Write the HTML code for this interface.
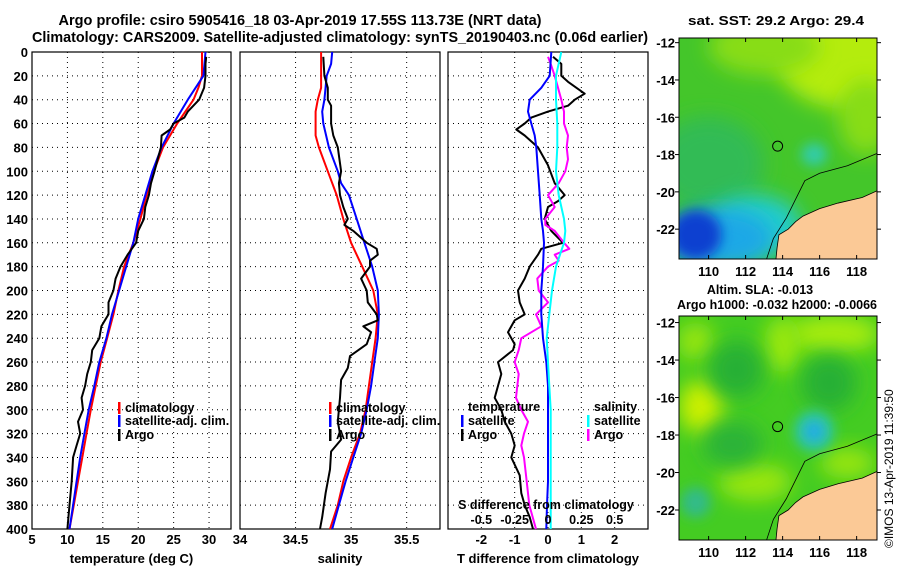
<!DOCTYPE html>
<html><head><meta charset="utf-8"><style>
html,body{margin:0;padding:0;background:#fff;}
svg{display:block;font-family:"Liberation Sans",sans-serif;font-weight:bold;}
</style></head><body>
<svg id="chart" width="900" height="580" viewBox="0 0 900 580">
<defs>
<filter id="blur6" x="-50%" y="-50%" width="200%" height="200%"><feGaussianBlur stdDeviation="6"/></filter>
<filter id="blur10" x="-50%" y="-50%" width="200%" height="200%"><feGaussianBlur stdDeviation="10"/></filter>
<clipPath id="clipM1"><rect x="679" y="38" width="198" height="221"/></clipPath>
<clipPath id="clipM2"><rect x="679" y="316" width="198" height="224"/></clipPath>
</defs>
<text x="300" y="25" font-size="15" text-anchor="middle" textLength="483" lengthAdjust="spacingAndGlyphs">Argo profile: csiro 5905416_18 03-Apr-2019 17.55S 113.73E (NRT data)</text>
<text x="340" y="42" font-size="15" text-anchor="middle" textLength="616" lengthAdjust="spacingAndGlyphs">Climatology: CARS2009. Satellite-adjusted climatology: synTS_20190403.nc (0.06d earlier)</text>
<text x="776" y="25" font-size="13" text-anchor="middle" textLength="176" lengthAdjust="spacingAndGlyphs">sat. SST: 29.2 Argo: 29.4</text>
<text x="760" y="294" font-size="12.5" text-anchor="middle">Altim. SLA: -0.013</text>
<text x="777" y="309" font-size="12.5" text-anchor="middle" textLength="200" lengthAdjust="spacingAndGlyphs">Argo h1000: -0.032 h2000: -0.0066</text>
<text transform="translate(893,548) rotate(-90)" font-size="12" font-weight="normal">©IMOS 13-Apr-2019 11:39:50</text>
<g id="panels"></g>
<g id="maps"></g>
</svg>
<script>
// ---- data ----
const depthTicks = [0,20,40,60,80,100,120,140,160,180,200,220,240,260,280,300,320,340,360,380,400];
const tempTicks = [5,10,15,20,25,30];
const salTicks = [34,34.5,35,35.5];
const salTickLabels = ['34','34.5','35','35.5'];
const tdiffTicks = [-2,-1,0,1,2];
const sdiffTicks = [-0.5,-0.25,0,0.25,0.5];

const tClimDepth = [0,20,30,40,60,80,100,120,140,160,180,200,220,240,260,280,300,320,340,360,380,400];
const tClim = [29.0,29.0,28.5,27.8,25.5,23.5,22.2,21.2,20.3,19.3,18.0,17.2,16.5,15.6,14.7,14.0,13.3,12.7,12.1,11.5,10.9,10.3];
const tSatDepth = [0,20,40,60,80,100,120,140,160,180,200,220,240,260,280,300,320,340,360,380,400];
const tSat = [29.5,29.2,27.0,25.0,23.3,22.0,21.0,20.0,19.3,18.3,17.3,16.3,15.5,14.5,13.8,13.0,12.4,11.8,11.3,10.8,10.3];
const tArgoDepth = [4,10,20,30,40,50,55,60,65,70,80,100,110,120,130,140,150,160,170,180,190,200,210,220,225,230,240,250,260,270,280,290,300,310,320,330,340,360,380,400];
const tArgo = [29.6,29.5,29.5,29.3,28.6,27.0,26.5,25.0,24.5,23.3,23.2,22.3,21.8,21.5,21.0,20.8,20.0,19.7,18.5,17.5,16.8,16.5,15.8,15.8,15.3,14.8,14.5,13.5,13.3,12.8,12.5,12.0,12.2,11.5,11.8,11.3,10.8,10.6,10.3,10.0];

const sClimDepth = [0,30,40,50,70,80,100,120,140,160,180,200,220,240,260,280,300,320,340,360,380,400];
const sClim = [34.73,34.73,34.70,34.68,34.68,34.71,34.79,34.87,34.93,35.00,35.10,35.20,35.24,35.22,35.19,35.16,35.13,35.08,35.00,34.93,34.88,34.81];
const sSatDepth = [0,10,20,40,50,60,80,100,110,120,140,160,180,200,220,240,260,280,300,320,340,360,380,400];
const sSat = [34.83,34.82,34.78,34.76,34.74,34.75,34.80,34.88,34.91,34.98,35.05,35.12,35.19,35.24,35.25,35.24,35.21,35.18,35.14,35.09,35.02,34.95,34.89,34.83];
const sArgoDepth = [4,20,30,40,45,60,70,80,100,110,120,130,140,145,150,160,165,170,175,180,190,200,210,220,225,230,235,245,255,265,275,290,310,325,335,350,370,390,400];
const sArgo = [34.75,34.76,34.79,34.79,34.82,34.82,34.84,34.88,34.91,34.89,34.90,34.93,34.97,34.94,35.02,35.14,35.23,35.24,35.17,35.17,35.09,35.14,35.15,35.23,35.24,35.11,35.18,35.14,34.99,34.97,34.91,34.90,34.88,34.91,34.82,34.81,34.77,34.74,34.72];

const dTSatDepth = [0,20,30,40,50,60,70,80,100,120,140,150,160,180,200,220,240,260,280,300,320,340,360,380,400];
const dTSat = [0.1,0.05,-0.2,-0.55,-0.6,-0.5,-0.4,-0.35,-0.3,-0.25,-0.2,-0.15,-0.12,-0.15,-0.2,-0.2,-0.15,-0.05,0,0,0,0,0,-0.03,-0.05];
const dSSatDepth = [0,20,40,60,80,100,120,140,150,160,170,180,200,220,240,260,280,300,320,340,360,380,400];
const dSSat = [0.1,0.06,0.06,0.07,0.07,0.06,0.08,0.12,0.13,0.12,0.09,0.06,0.03,0.01,-0.01,0,0.01,0.02,0.02,0.02,0.02,0.02,0.02];
const dTArgoDepth = [4,10,20,25,35,40,45,50,55,60,65,70,80,95,110,120,125,130,140,150,160,165,170,180,190,200,210,220,225,235,245,250,260,270,280,290,300,310,320,330,340,355,370,380,390,400];
const dTArgo = [0.15,0.4,0.4,0.6,1.1,0.8,0.6,0,-0.5,-0.7,-0.95,-0.7,-0.3,0,0.2,0.5,0.3,0,-0.1,0.1,0.45,-0.2,-0.3,-0.55,-0.7,-0.9,-0.85,-0.7,-1.0,-1.2,-1.0,-1.05,-1.5,-1.4,-1.5,-1.6,-1.4,-1.3,-1.1,-1.0,-1.1,-0.85,-0.8,-0.7,-0.55,-0.45];
const dSArgoDepth = [4,10,20,40,50,60,70,80,90,100,110,120,130,140,145,150,160,165,170,175,180,190,200,210,220,230,240,250,260,270,280,290,300,310,320,330,340,360,380,400];
const dSArgo = [0,0.02,0.05,0.1,0.12,0.12,0.15,0.14,0.15,0.13,0.08,0,0.05,-0.02,-0.02,0.05,0.12,0.16,0.05,0.08,0,-0.08,-0.07,0,-0.09,-0.05,-0.2,-0.22,-0.25,-0.22,-0.23,-0.24,-0.2,-0.15,-0.18,-0.2,-0.18,-0.16,-0.14,-0.09];

const lonTicks = [110,112,114,116,118];
const latTicks = [-12,-14,-16,-18,-20,-22];
const argoLon = [113.73];
const argoLat = [-17.55];

// ---- helpers ----
const NS='http://www.w3.org/2000/svg';
function mk(tag,attrs,parent){const e=document.createElementNS(NS,tag);for(const k in attrs)e.setAttribute(k,attrs[k]);parent.appendChild(e);return e;}
const panels=document.getElementById('panels');
const Y0=52,Y1=529;
const yScale=d=>Y0+(d/400)*(Y1-Y0);

function drawPanel(name,x0,x1,vmin,vmax,ticks,labels,showY,title){
  const g=mk('g',{},panels);
  
  
  const xs=v=>x0+(v-vmin)/(vmax-vmin)*(x1-x0);
  depthTicks.forEach(d=>{
    if(d===0||d===400)return;
    const l=mk('line',{x1:x0,x2:x1,y1:yScale(d),y2:yScale(d),stroke:'#000','stroke-width':1,'stroke-dasharray':'1,4'},g);
    
    
  });
  ticks.forEach((t,i)=>{
    const x=xs(t);
    if(x>x0+2&&x<x1-2){
      const l=mk('line',{x1:x,x2:x,y1:Y0,y2:Y1,stroke:'#000','stroke-width':1,'stroke-dasharray':'1,4'},g);
      
      
    }
    const tx=mk('text',{x:x,y:544,'font-size':13,'text-anchor':'middle'},g);
    tx.textContent=labels?labels[i]:String(t);
    
    
  });
  if(showY){
    depthTicks.forEach(d=>{
      const tx=mk('text',{x:28,y:yScale(d)+5,'font-size':13,'text-anchor':'end'},g);
      tx.textContent=String(d);
      
      
    });
  }
  const r=mk('rect',{x:x0,y:Y0,width:x1-x0,height:Y1-Y0,fill:'none',stroke:'#000','stroke-width':1.2},g);
  
  
  const at=mk('text',{x:(x0+x1)/2,y:563,'font-size':13,'text-anchor':'middle'},g);
  at.textContent=title;
  
  
  return {g,xs};
}
function line(g,xs,depths,vals,color,w,name){
  const pts=depths.map((d,i)=>xs(vals[i]).toFixed(1)+','+yScale(d).toFixed(1)).join(' ');
  const p=mk('polyline',{points:pts,fill:'none',stroke:color,'stroke-width':w,'stroke-linejoin':'round'},g);
  
  
}
function legend(g,x,y,color,label,name){
  const b=mk('rect',{x:x,y:y-9,width:2.5,height:12,fill:color},g);
  
  
  const t=mk('text',{x:x+7,y:y+1,'font-size':12.5},g);
  t.textContent=label;
  
  
}

const P1=drawPanel('temperature',32,231,5,33.1,tempTicks,null,true,'temperature (deg C)');
line(P1.g,P1.xs,tClimDepth,tClim,'#ff0000',2,'temp-climatology-line');
line(P1.g,P1.xs,tSatDepth,tSat,'#0000ff',2,'temp-satellite-line');
line(P1.g,P1.xs,tArgoDepth,tArgo,'#000',2,'temp-argo-line');
legend(P1.g,118,411,'#ff0000','climatology','legend-climatology');
legend(P1.g,118,424,'#0000ff','satellite-adj. clim.','legend-satellite');
legend(P1.g,118,438,'#000','Argo','legend-argo');

const P2=drawPanel('salinity',240,440,34,35.8,salTicks,salTickLabels,false,'salinity');
line(P2.g,P2.xs,sClimDepth,sClim,'#ff0000',2,'sal-climatology-line');
line(P2.g,P2.xs,sSatDepth,sSat,'#0000ff',2,'sal-satellite-line');
line(P2.g,P2.xs,sArgoDepth,sArgo,'#000',2,'sal-argo-line');
legend(P2.g,329,411,'#ff0000','climatology','legend-climatology');
legend(P2.g,329,424,'#0000ff','satellite-adj. clim.','legend-satellite');
legend(P2.g,329,438,'#000','Argo','legend-argo');

const P3=drawPanel('difference',448,648,-3,3,tdiffTicks,null,false,'T difference from climatology');
const xsS=v=>P3.xs(v*4);
line(P3.g,P3.xs,dTArgoDepth,dTArgo,'#000',2,'tdiff-argo-line');
line(P3.g,xsS,dSArgoDepth,dSArgo,'#ff00ff',2,'sdiff-argo-line');
line(P3.g,P3.xs,dTSatDepth,dTSat,'#0000ff',2,'tdiff-satellite-line');
line(P3.g,xsS,dSSatDepth,dSSat,'#00ffff',2,'sdiff-satellite-line');
{
  const t=mk('text',{x:468,y:411,'font-size':12.5},P3.g);t.textContent='temperature';
  
  
  const s=mk('text',{x:594,y:411,'font-size':12.5},P3.g);s.textContent='salinity';
  
  
}
legend(P3.g,461,424,'#0000ff','satellite','legend-t-satellite');
legend(P3.g,461,438,'#000','Argo','legend-t-argo');
legend(P3.g,587,424,'#00ffff','satellite','legend-s-satellite');
legend(P3.g,587,438,'#ff00ff','Argo','legend-s-argo');
{
  const t=mk('text',{x:546,y:509,'font-size':12.5,'text-anchor':'middle'},P3.g);
  t.textContent='S difference from climatology';
  
  
  sdiffTicks.forEach(v=>{
    const l=mk('text',{x:xsS(v),y:524,'font-size':12.5,'text-anchor':'middle'},P3.g);
    l.textContent=String(v);
    
    
  });
}

// ---- maps ----
const maps=document.getElementById('maps');
const MX0=679,MX1=877,LON0=108.4,LON1=119.1;
const mx=lon=>MX0+(lon-LON0)/(LON1-LON0)*(MX1-MX0);
function drawMap(name,y0,y1,latTop,latBot,clip,blobs,base){
  const my=lat=>y0+(latTop-lat)/(latTop-latBot)*(y1-y0);
  const g=mk('g',{},maps);
  
  
  const f=mk('g',{'clip-path':'url(#'+clip+')'},g);
  mk('rect',{x:MX0,y:y0,width:MX1-MX0,height:y1-y0,fill:base},f);
  blobs.forEach(b=>{
    mk('ellipse',{cx:mx(b[0]),cy:my(b[1]),rx:b[2]*18.5,ry:b[3]*19,fill:b[4],filter:'url(#'+(b[5]||'blur10')+')'},f);
  });
  const land=[[113.6,-24],[113.7,-23.0],[113.8,-22.3],[114.3,-22.0],[114.7,-21.6],[115.1,-21.3],[116.0,-20.9],[117.0,-20.6],[118.3,-20.3],[119.2,-19.9],[119.2,-24]];
  const lp=mk('polygon',{points:land.map(p=>mx(p[0])+','+my(p[1])).join(' '),fill:'#fbc996',stroke:'#000','stroke-width':0.8},f);
  
  
  const shelf=[[113.0,-24],[113.5,-22.5],[114.2,-21.4],[114.8,-20.2],[115.2,-19.4],[116.0,-19.0],[117.5,-18.6],[119.2,-17.9]];
  const sp=mk('polyline',{points:shelf.map(p=>mx(p[0])+','+my(p[1])).join(' '),fill:'none',stroke:'#000','stroke-width':0.8},f);
  
  
  const c=mk('circle',{cx:mx(argoLon[0]),cy:my(argoLat[0]),r:5,fill:'none',stroke:'#000','stroke-width':1},g);
  
  
  const r=mk('rect',{x:MX0,y:y0,width:MX1-MX0,height:y1-y0,fill:'none',stroke:'#000','stroke-width':1},g);
  
  
  lonTicks.forEach(l=>{
    mk('line',{x1:mx(l),x2:mx(l),y1:y0,y2:y0+4,stroke:'#000'},g);
    mk('line',{x1:mx(l),x2:mx(l),y1:y1,y2:y1-4,stroke:'#000'},g);
    const t=mk('text',{x:mx(l),y:y1+17,'font-size':13,'text-anchor':'middle'},g);
    t.textContent=String(l);
    
    
  });
  latTicks.forEach(l=>{
    mk('line',{x1:MX0-4,x2:MX0,y1:my(l),y2:my(l),stroke:'#000'},g);
    mk('line',{x1:MX1,x2:MX1+4,y1:my(l),y2:my(l),stroke:'#000'},g);
    const t=mk('text',{x:MX0-4,y:my(l)+5,'font-size':13,'text-anchor':'end'},g);
    t.textContent=String(l);
    
    
  });
}
drawMap('sst-map',38,259,-11.75,-23.6,'clipM1',[
  [117.5,-12.5,4,3,'#b4ec10'],[113,-12.2,3,1.5,'#88dd18'],[118.5,-16,1.5,2,'#88dd18'],
  [110,-18.5,3,2.5,'#33bb55'],[112.5,-21.8,2.5,1.6,'#22cccc'],[110.5,-22.5,3,1.6,'#1aa8e6'],
  [109.3,-22.3,1.4,1.3,'#0b3fd0','blur6'],[115.7,-18,0.7,0.6,'#33ccaa','blur6']
],'#44c62a');
drawMap('sla-map',316,540,-11.65,-23.6,'clipM2',[
  [109.6,-16.5,1.2,1.4,'#ccf000'],[116.8,-12.6,2.5,1,'#a6ec0c'],[114,-13.2,1,1.5,'#99e80e'],
  [112.5,-20.5,2,1,'#99e60e'],[117.5,-19.5,1.5,0.8,'#99e60e'],[109.3,-13,1,1,'#99e60e'],
  [111.5,-14.5,1.5,1.5,'#27b035'],[116.5,-15.2,1.5,1.5,'#27b035'],[111.3,-18.5,1.6,1.2,'#2ab338'],
  [115.7,-17.8,1.1,1.1,'#2ec6a0','blur6'],[115.7,-17.8,0.5,0.5,'#22aaee','blur6'],[109.3,-21.6,0.8,0.8,'#30bb88','blur6']
],'#44cc22');
</script>
</body></html>
